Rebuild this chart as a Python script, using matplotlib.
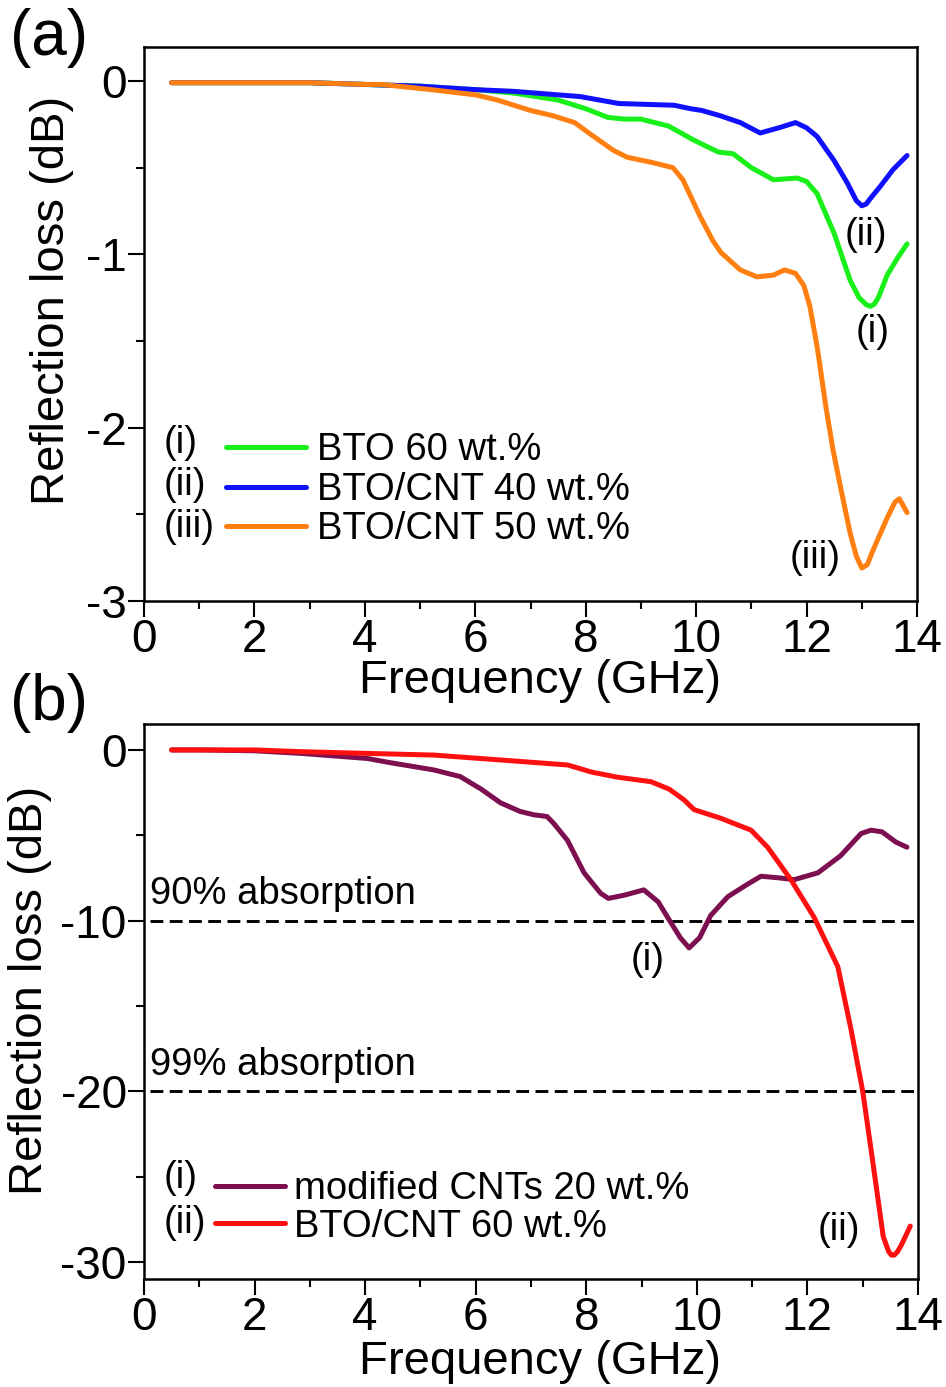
import matplotlib
matplotlib.use('Agg')
import matplotlib.pyplot as plt
from matplotlib.ticker import MultipleLocator

plt.rcParams['font.family'] = ['Liberation Sans', 'DejaVu Sans']
plt.rcParams['axes.unicode_minus'] = False

# ---- panel (a) data: reflection loss (dB) vs frequency (GHz)
freq_bto60 = [0.5, 1, 2, 3, 4, 5, 6, 6.7, 7.5, 8.0, 8.4, 8.7, 9.0, 9.5, 9.95, 10.4,
              10.67, 11.0, 11.4, 11.83, 12.0, 12.19, 12.5, 12.79, 12.95, 13.08, 13.15,
              13.22, 13.3, 13.46, 13.65, 13.82]
rl_bto60 = [-0.01, -0.01, -0.01, -0.01, -0.02, -0.03, -0.05, -0.07, -0.11, -0.16, -0.21,
            -0.22, -0.22, -0.26, -0.34, -0.41, -0.42, -0.50, -0.57, -0.56, -0.58, -0.65,
            -0.88, -1.15, -1.25, -1.29, -1.30, -1.29, -1.25, -1.12, -1.02, -0.94]

freq_btocnt40 = [0.5, 1, 2, 3, 4, 5, 6, 6.7, 7.9, 8.6, 9.6, 9.9, 10.1, 10.43, 10.8,
                 11.16, 11.5, 11.8, 12.0, 12.19, 12.5, 12.74, 12.9, 13.0, 13.08, 13.15,
                 13.33, 13.57, 13.82]
rl_btocnt40 = [-0.01, -0.01, -0.01, -0.01, -0.02, -0.03, -0.05, -0.06, -0.09, -0.13, -0.14,
               -0.16, -0.17, -0.20, -0.24, -0.30, -0.27, -0.24, -0.27, -0.32, -0.46, -0.59,
               -0.69, -0.72, -0.71, -0.68, -0.61, -0.51, -0.43]

freq_btocnt50 = [0.5, 1, 2, 3, 4, 4.3, 5.2, 6.0, 6.4, 7.0, 7.4, 7.8, 8.1, 8.5, 8.75, 9.2,
                 9.58, 9.76, 10.07, 10.3, 10.45, 10.8, 11.1, 11.4, 11.6, 11.8, 11.95, 12.06,
                 12.2, 12.35, 12.48, 12.6, 12.79, 12.9, 13.0, 13.1, 13.2, 13.46, 13.6, 13.68,
                 13.82]
rl_btocnt50 = [-0.01, -0.01, -0.01, -0.01, -0.02, -0.02, -0.05, -0.08, -0.11, -0.17, -0.20,
               -0.24, -0.31, -0.40, -0.44, -0.47, -0.50, -0.57, -0.78, -0.92, -0.99, -1.09,
               -1.13, -1.12, -1.09, -1.11, -1.18, -1.30, -1.55, -1.88, -2.13, -2.32, -2.61,
               -2.74, -2.81, -2.79, -2.71, -2.52, -2.43, -2.41, -2.49]

labels_a = ['BTO 60 wt.%', 'BTO/CNT 40 wt.%', 'BTO/CNT 50 wt.%']
colors_a = ['#19f019', '#1010ff', '#ff8010']
tags_a = ['(i)', '(ii)', '(iii)']

# ---- panel (b) data
freq_cnt20 = [0.5, 1, 2, 2.83, 4.04, 4.46, 5.24, 5.72, 6.1, 6.45, 6.8, 7.05, 7.29, 7.41,
              7.66, 7.96, 8.26, 8.4, 8.7, 9.04, 9.3, 9.47, 9.7, 9.86, 10.05, 10.25, 10.56,
              10.9, 11.16, 11.5, 11.76, 12.19, 12.6, 12.97, 13.15, 13.35, 13.6, 13.8]
rl_cnt20 = [0, 0, -0.05, -0.2, -0.5, -0.75, -1.17, -1.56, -2.3, -3.1, -3.6, -3.8, -3.9,
            -4.3, -5.3, -7.2, -8.4, -8.7, -8.5, -8.2, -8.9, -9.8, -11.0, -11.6, -11.0,
            -9.7, -8.6, -7.9, -7.4, -7.5, -7.6, -7.2, -6.2, -4.9, -4.7, -4.8, -5.4, -5.7]

freq_btocnt60 = [0.5, 1, 2, 2.83, 4, 5.24, 6.5, 7.66, 8.1, 8.57, 9.17, 9.5, 9.77, 9.95,
                 10.43, 10.98, 11.28, 11.7, 12.12, 12.55, 12.79, 13.0, 13.15, 13.28, 13.37,
                 13.47, 13.52, 13.57, 13.63, 13.7, 13.86]
rl_btocnt60 = [0, 0, 0, -0.1, -0.2, -0.3, -0.6, -0.88, -1.3, -1.6, -1.86, -2.3, -2.93, -3.5,
               -4.0, -4.7, -5.7, -7.6, -9.8, -12.7, -16.4, -20.0, -23.4, -26.4, -28.5,
               -29.4, -29.6, -29.6, -29.4, -29.0, -27.9]

labels_b = ['modified CNTs 20 wt.%', 'BTO/CNT 60 wt.%']
colors_b = ['#7d0f50', '#ff1010']
tags_b = ['(i)', '(ii)']

absorption_levels = [-10, -20]
absorption_text = ['90% absorption', '99% absorption']

TICK_FS = 33
LABEL_FS = 34
SMALL_FS = 27.5


def style_axes(ax, ymajor, yminor, ylim):
    ax.set_xlim(0, 14)
    ax.set_ylim(*ylim)
    ax.xaxis.set_major_locator(MultipleLocator(2))
    ax.xaxis.set_minor_locator(MultipleLocator(1))
    ax.yaxis.set_major_locator(MultipleLocator(ymajor))
    ax.yaxis.set_minor_locator(MultipleLocator(yminor))
    ax.tick_params(which='both', direction='out', top=False, right=False, width=1.5)
    ax.tick_params(which='major', length=11.5, labelsize=TICK_FS)
    ax.tick_params(which='minor', length=6)
    ax.tick_params(axis='x', which='major', pad=1)
    ax.tick_params(axis='y', which='major', pad=1)
    for s in ax.spines.values():
        s.set_linewidth(1.8)
    ax.set_xlabel('Frequency (GHz)', fontsize=LABEL_FS)
    ax.set_ylabel('Reflection loss (dB)', fontsize=LABEL_FS)


fig = plt.figure(figsize=(9.46, 13.87), dpi=100)

# ---------------- (a)
ax1 = fig.add_axes([144 / 946, 1 - 601 / 1387, 773 / 946, 554 / 1387])
series_a = [(freq_bto60, rl_bto60), (freq_btocnt40, rl_btocnt40), (freq_btocnt50, rl_btocnt50)]
for (f, rl), lab, c in zip(series_a, labels_a, colors_a):
    ax1.plot(f, rl, color=c, lw=3.6, label=lab, solid_capstyle='round',
             solid_joinstyle='round')
style_axes(ax1, 1, 0.5, (-3, 0.196))
ax1.xaxis.set_label_coords(0.512, -0.144)
ax1.xaxis.label.set_va('center')
ax1.yaxis.set_label_coords(-0.119, 0.543)
ax1.yaxis.label.set_va('center')

ax1.legend(loc='center left', bbox_to_anchor=(0.106, 0.2005), frameon=False,
           fontsize=SMALL_FS, handlelength=2.1, handletextpad=0.29,
           labelspacing=0.09, borderpad=0, borderaxespad=0)
for tag, yy in zip(tags_a, [0.285, 0.209, 0.134]):
    ax1.text(0.025, yy, tag, transform=ax1.transAxes, fontsize=SMALL_FS,
             ha='left', va='center')

ax1.text(13.08, -0.89, '(ii)', fontsize=SMALL_FS, ha='center', va='center')
ax1.text(13.19, -1.45, '(i)', fontsize=SMALL_FS, ha='center', va='center')
ax1.text(12.16, -2.75, '(iii)', fontsize=SMALL_FS, ha='center', va='center')

# ---------------- (b)
ax2 = fig.add_axes([144 / 946, 1 - 1279 / 1387, 774 / 946, 555 / 1387])
for lvl, txt in zip(absorption_levels, absorption_text):
    ax2.plot([0.11, 13.97], [lvl, lvl], color='black', lw=2.1,
             linestyle=(0, (4.4, 2.2)))
    ax2.text(0.11, lvl + 0.95, txt, fontsize=SMALL_FS, ha='left', va='baseline')

series_b = [(freq_cnt20, rl_cnt20), (freq_btocnt60, rl_btocnt60)]
for (f, rl), lab, c in zip(series_b, labels_b, colors_b):
    ax2.plot(f, rl, color=c, lw=3.6, label=lab, solid_capstyle='round',
             solid_joinstyle='round')
style_axes(ax2, 10, 5, (-31.0, 1.52))
ax2.xaxis.set_label_coords(0.512, -0.15)
ax2.xaxis.label.set_va('center')
ax2.yaxis.set_label_coords(-0.147, 0.52)
ax2.yaxis.label.set_va('center')

handles, labels = ax2.get_legend_handles_labels()
ax2.legend(handles[-2:], labels[-2:], loc='center left', bbox_to_anchor=(0.092, 0.128),
           frameon=False, fontsize=SMALL_FS, handlelength=1.83, handletextpad=0.23,
           labelspacing=0.04, borderpad=0, borderaxespad=0)
for tag, yy in zip(tags_b, [0.182, 0.101]):
    ax2.text(0.025, yy, tag, transform=ax2.transAxes, fontsize=SMALL_FS,
             ha='left', va='center')

ax2.text(9.11, -12.3, '(i)', fontsize=SMALL_FS, ha='center', va='center')
ax2.text(12.57, -28.1, '(ii)', fontsize=SMALL_FS, ha='center', va='center')

# panel letters
fig.text(10 / 946, 1 - 38 / 1387, '(a)', fontsize=46, ha='left', va='center')
fig.text(10 / 946, 1 - 703 / 1387, '(b)', fontsize=46, ha='left', va='center')

fig.savefig('out.png', dpi=100)
